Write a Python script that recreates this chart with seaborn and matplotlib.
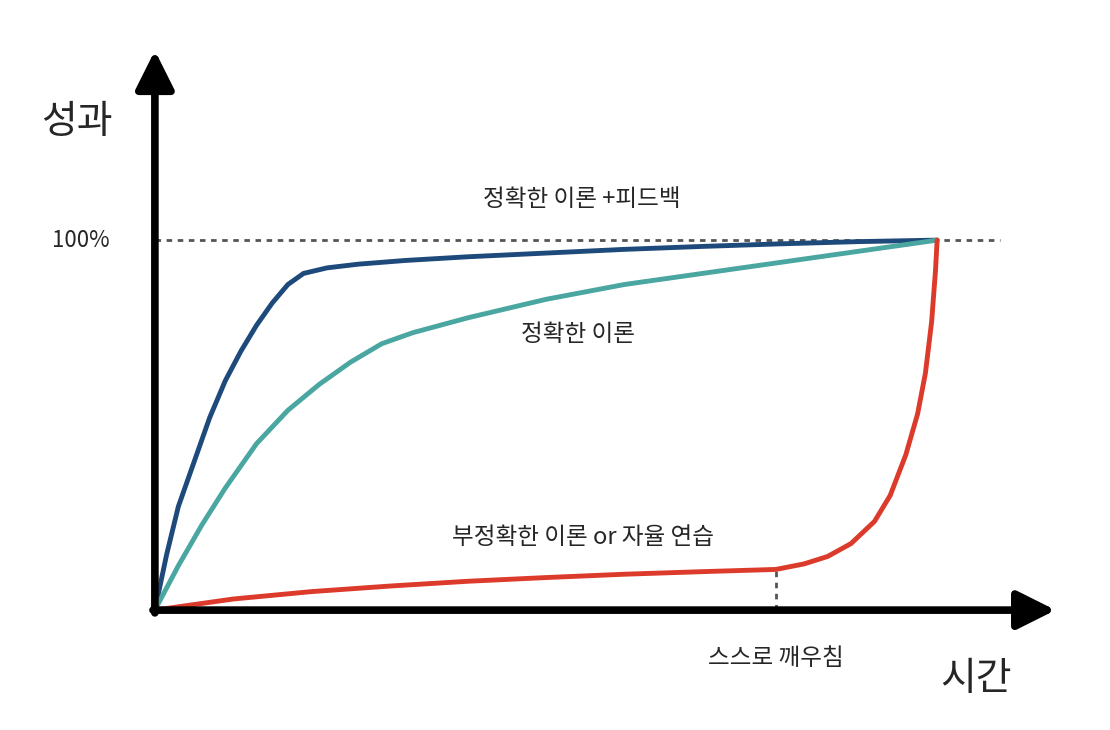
import matplotlib
matplotlib.use("Agg")
import matplotlib.pyplot as plt
import seaborn as sns
import pandas as pd

sns.set_theme(style="white")
plt.rcParams['font.family'] = ['Noto Sans CJK KR', 'DejaVu Sans']

blue_x = [0, 1.5, 3, 5, 7, 9, 11, 13, 15, 17, 19, 22, 26, 32, 40, 50, 60, 70, 80, 90, 100]
blue_y = [0, 15, 28, 40, 52, 62, 70, 77, 83, 88, 91, 92.5, 93.5, 94.5, 95.5, 96.5, 97.5, 98.3, 99, 99.6, 100]
teal_x = [0, 3, 6, 9, 13, 17, 21, 25, 29, 33, 40, 50, 60, 70, 80, 90, 100]
teal_y = [0, 12, 23, 33, 45, 54, 61, 67, 72, 75, 79, 84, 88, 91, 94, 97, 100]
red_x = [0, 5, 10, 20, 30, 40, 50, 60, 70, 79.4, 83, 86, 89, 92, 94, 96, 97.5, 98.5, 99.3, 99.8, 100]
red_y = [0, 1.5, 3, 5, 6.5, 7.8, 8.8, 9.7, 10.4, 11, 12.5, 14.5, 18, 24, 31, 42, 53, 64, 78, 92, 100]

df = pd.concat([
    pd.DataFrame({'x': blue_x, 'y': blue_y, 's': 'blue'}),
    pd.DataFrame({'x': teal_x, 'y': teal_y, 's': 'teal'}),
    pd.DataFrame({'x': red_x, 'y': red_y, 's': 'red'}),
])

fig = plt.figure(figsize=(11.1, 7.3), dpi=100)
ax = fig.add_axes([0, 0, 1, 1])
ax.set_xlim(-19.8, 122.1)
ax.set_ylim(-32.4, 164.9)
ax.axis('off')

ax.plot([0, 108], [100, 100], ls=(0, (2, 2)), color='#555555', lw=2, zorder=1)
ax.plot([79.4, 79.4], [0, 11], ls=(0, (2, 2)), color='#555555', lw=2, zorder=1)

sns.lineplot(data=df, x='x', y='y', hue='s', sort=False, estimator=None,
             palette={'blue': '#1d4a7a', 'teal': '#4aa6a0', 'red': '#dc3a2a'},
             lw=3.5, legend=False, ax=ax, zorder=3)
for l in ax.lines:
    l.set_solid_joinstyle('round')

ax.annotate('', xy=(0, 152), xytext=(0, -1.5),
            arrowprops=dict(arrowstyle='-|>', lw=5.5, color='black', mutation_scale=58), zorder=5)
ax.annotate('', xy=(115.5, 0), xytext=(-0.6, 0),
            arrowprops=dict(arrowstyle='-|>', lw=5.5, color='black', mutation_scale=58), zorder=5)

ax.set_xlabel(''); ax.set_ylabel('')
ax.text(-10, 132, '성과', fontsize=28, ha='center', va='center')
ax.text(105, -18.5, '시간', fontsize=28, ha='center', va='center')
ax.text(-9.5, 100, '100%', fontsize=16, ha='center', va='center')
ax.text(54.6, 111, '정확한 이론 +피드백', fontsize=17, ha='center', va='center')
ax.text(54.1, 74.5, '정확한 이론', fontsize=17, ha='center', va='center')
ax.text(54.7, 19.5, '부정확한 이론 or 자율 연습', fontsize=17, ha='center', va='center')
ax.text(79.4, -13, '스스로 깨우침', fontsize=17, ha='center', va='center')

fig.savefig('out.png', dpi=100)
